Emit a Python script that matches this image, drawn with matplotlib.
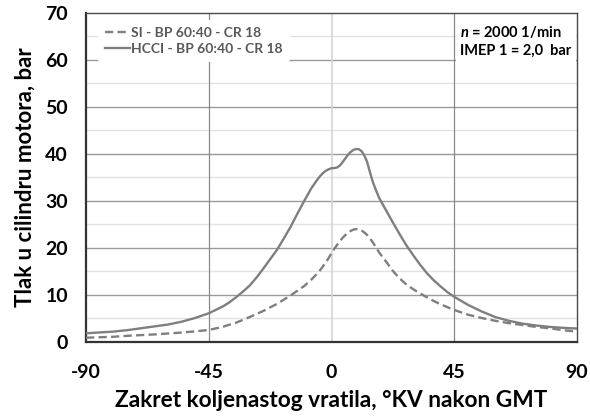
import matplotlib
matplotlib.use('Agg')
import matplotlib.pyplot as plt

# 字体设置
plt.rcParams['font.family'] = ['Lato', 'DejaVu Sans']
plt.rcParams['font.weight'] = 'bold'
plt.rcParams['axes.unicode_minus'] = False
plt.rcParams['mathtext.fontset'] = 'custom'
plt.rcParams['mathtext.it'] = 'Lato:italic:bold'
plt.rcParams['mathtext.rm'] = 'Lato:bold'

# 数据
x_hcci = [-90, -80, -75, -70, -65, -60, -55, -50, -45, -40, -37.5, -35, -32.5, -30, -27.5,
          -25, -22.5, -20, -17.5, -15, -12.5, -10, -7.5, -5, -4, -3, -2, -1, 0, 1,
          2, 3, 4, 5, 6, 7, 8, 9, 10, 11, 12, 13, 14, 15, 16,
          17.5, 20, 22.5, 25, 27.5, 30, 32.5, 35, 37.5, 40, 42.5, 45, 50, 55, 60,
          65, 70, 75, 80, 85, 90]
p_hcci = [1.85, 2.2, 2.5, 2.9, 3.3, 3.7, 4.3, 5.1, 6.1, 7.5, 8.4, 9.5, 10.7, 12.0, 13.7,
          15.6, 17.6, 19.6, 22.0, 24.5, 27.3, 30.0, 32.6, 34.7, 35.4, 36.0, 36.45, 36.75, 36.95, 37.0,
          37.1, 37.5, 38.2, 39.0, 39.8, 40.4, 40.85, 41.05, 41.0, 40.6, 39.7, 38.4, 36.3, 34.3, 32.7,
          30.6, 28.0, 25.4, 22.9, 20.5, 18.4, 16.4, 14.6, 13.1, 11.8, 10.6, 9.6, 7.9, 6.5, 5.3,
          4.5, 3.9, 3.5, 3.2, 3.0, 2.85]

x_si = [-90, -80, -75, -70, -65, -60, -55, -50, -45, -40, -35, -30, -25, -20, -17.5,
        -15, -12.5, -10, -7.5, -5, -4, -3, -2, -1, 0, 1, 2, 3, 4, 5,
        6, 7, 8, 9, 10, 11, 12, 13, 14, 15, 16, 17.5, 20, 22.5, 25,
        27.5, 30, 32.5, 35, 37.5, 40, 42.5, 45, 50, 55, 60, 65, 70, 75, 80,
        85, 90]
p_si = [0.9, 1.1, 1.3, 1.45, 1.6, 1.8, 2.0, 2.25, 2.55, 3.2, 4.1, 5.3, 6.6, 8.1, 9.0,
        9.9, 10.9, 11.9, 13.2, 14.7, 15.4, 16.2, 17.0, 17.9, 18.9, 19.8, 20.6, 21.4, 22.1, 22.7,
        23.2, 23.6, 23.9, 24.0, 23.95, 23.7, 23.3, 22.8, 22.1, 21.3, 20.4, 19.0, 17.1, 15.1, 13.5,
        12.2, 11.2, 10.3, 9.5, 8.7, 8.0, 7.4, 6.8, 5.8, 5.1, 4.5, 4.0, 3.6, 3.2, 2.9,
        2.5, 2.2]

x_ticks = [-90, -45, 0, 45, 90]
y_ticks = [0, 10, 20, 30, 40, 50, 60, 70]

label_si = 'SI - BP 60:40 - CR 18'
label_hcci = 'HCCI - BP 60:40 - CR 18'

# 创建绘图对象
fig = plt.figure(figsize=(5.9, 4.16), dpi=100)
ax = fig.add_axes([0.1458, 0.178, 0.8322, 0.791])

# 网格线
for y in range(5, 70, 10):
    ax.axhline(y, color='#e3e3e3', lw=1.0, zorder=0)
for y in y_ticks[1:-1]:
    ax.axhline(y, color='#9a9a9a', lw=1.0, zorder=0)
ax.axvline(-45, color='#8a8a8a', lw=0.9, zorder=0.5)
ax.axvline(45, color='#8a8a8a', lw=0.9, zorder=0.5)
ax.axvline(0, color='#d6d6d6', lw=1.2, zorder=0.6)

# 曲线
ax.plot(x_si, p_si, color='#7f7f7f', lw=1.7, linestyle=(0, (3.5, 1.8)), label=label_si, zorder=3)
ax.plot(x_hcci, p_hcci, color='#7f7f7f', lw=1.7, label=label_hcci, zorder=3)

ax.set_xlim(-90, 90)
ax.set_ylim(0, 70)
ax.set_xticks(x_ticks)
ax.set_yticks(y_ticks)
ax.tick_params(length=0, labelsize=14)
ax.tick_params(axis='x', pad=16)
ax.tick_params(axis='y', pad=13)
for lab in ax.get_xticklabels() + ax.get_yticklabels():
    lab.set_fontweight('bold')

for side in ['top', 'right']:
    ax.spines[side].set_color('#4a4a4a')
    ax.spines[side].set_linewidth(1.0)
for side in ['left', 'bottom']:
    ax.spines[side].set_color('#333333')
    ax.spines[side].set_linewidth(1.6)

ax.set_xlabel('Zakret koljenastog vratila, °KV nakon GMT', fontsize=16.3, fontweight='bold', labelpad=6)
ax.set_ylabel('Tlak u cilindru motora, bar', fontsize=16, fontweight='bold', labelpad=7)

# 图例
leg = ax.legend(loc='upper left', fontsize=10, frameon=True, handlelength=1.8,
                handletextpad=0.1, borderpad=0.5, labelspacing=0.3,
                bbox_to_anchor=(0.01, 1.0))
leg.get_frame().set_facecolor('white')
leg.get_frame().set_edgecolor('none')
leg.get_frame().set_alpha(1)
for t in leg.get_texts():
    t.set_color('#595959')
    t.set_fontweight('bold')

# 工况说明
ax.text(0.762, 0.965, '$n$ = 2000 1/min\nIMEP 1 = 2,0  bar', transform=ax.transAxes,
        ha='left', va='top', fontsize=10.5, fontweight='bold', linespacing=1.3,
        bbox=dict(facecolor='white', edgecolor='none', pad=3), zorder=4)

plt.savefig('out.png', dpi=100)
